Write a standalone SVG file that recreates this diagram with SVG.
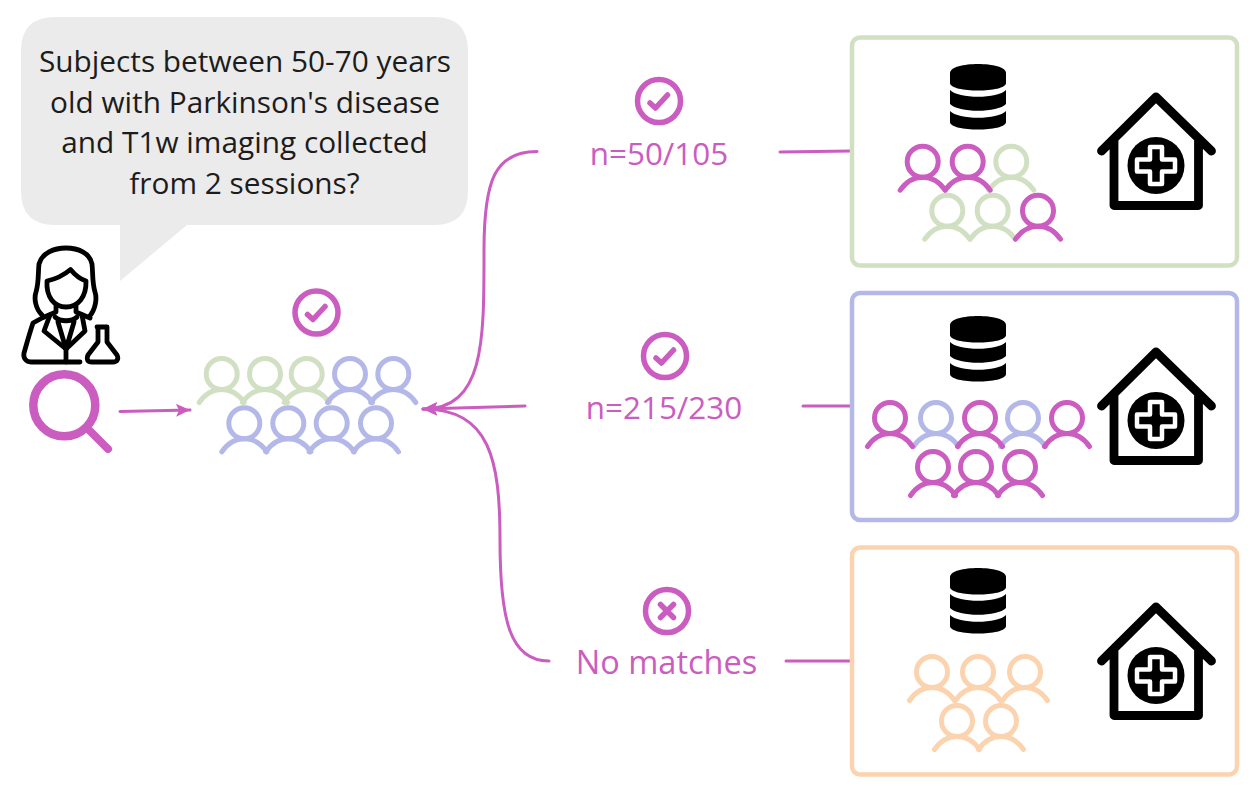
<svg xmlns="http://www.w3.org/2000/svg" width="1255" height="796" viewBox="0 0 1255 796">
<style>
.q{font-family:"Open Sans","Liberation Sans",sans-serif;font-size:29.800px;fill:#1c1c1c;text-anchor:middle}
.l{font-family:"Open Sans","Liberation Sans",sans-serif;font-size:31.400px;fill:#cb5cc0;text-anchor:middle}
.c{fill:none;stroke:#cb5cc0;stroke-width:3;stroke-linecap:round}
.box{fill:#fff;stroke-width:4.5}
.i{fill:none;stroke:#000;stroke-width:4.8;stroke-linecap:round;stroke-linejoin:round}
.g{color:#d1dfc2}.b{color:#b4b8e8}.p{color:#cb5cc0}.o{color:#fbd3ae}
.m{fill:none;stroke:#cb5cc0;stroke-width:5.500;stroke-linecap:round;stroke-linejoin:round}
</style>
<defs>
<marker id="a" markerUnits="userSpaceOnUse" markerWidth="18" markerHeight="16" refX="15" refY="8" orient="auto"><path d="M1,1.500L15,8L1,14.500L4,8Z" fill="#cb5cc0"/></marker>
<g id="u" fill="none" stroke="currentColor" stroke-width="5" stroke-linecap="round"><circle r="15.500"/><path d="M-22.500,28.500C-16,19-8,15.500 0,15.500C8,15.500 16,19 22.500,28.500"/></g>
<g id="db"><path d="M-28,-23C-28,-35 28,-35 28,-23V-13C28,-3-28,-3-28,-13Z"/><path d="M-28,-6C-20,3 20,3 28,-6V8C20,17-20,17-28,8Z"/><path d="M-28,15C-20,24 20,24 28,15V26C28,36-28,36-28,26Z"/></g>
<g id="h"><path d="M-54.500,56L0,2L55.500,56M-42,44V110.500H42.500V44" fill="none" stroke="#000" stroke-width="8.800" stroke-linecap="round" stroke-linejoin="round"/><circle cy="70.500" r="28.500" fill="#000"/><path d="M-6,52H6V64.500H19V76.500H6V89H-6V76.500H-19V64.500H-6Z" fill="#000" stroke="#fff" stroke-width="4.500" stroke-linejoin="round"/></g>
</defs>
<rect width="1255" height="796" fill="#fff"/>

<g id="question">
<path d="M55,17H434Q468,17 468,51V191Q468,225 434,225H187L120,281V225H55Q21,225 21,191V51Q21,17 55,17Z" fill="#ebebeb"/>
<text class="q" x="245" y="72">Subjects between 50-70 years</text>
<text class="q" x="245" y="113">old with Parkinson's disease</text>
<text class="q" x="244.500" y="153">and T1w imaging collected</text>
<text class="q" x="244.500" y="194">from 2 sessions?</text>
</g>

<g id="scientist" class="i">
<path d="M42,315C35,308 34,298 36,292C39,282 38,272 39,264C42,253 54,248 66,248C78,248 90,253 92,264C93,272 92,282 95,292C97,298 96,309 89,317"/>
<path d="M47,281C56,279 64,275 70.500,269.500C75,275 80,279 86,281C86.500,297 78,307 66,307C54,307 46,297 47,281Z"/>
<path d="M56,306V312L42,318L33,323C29,335 26,346 24,353C23,358 26,362 31,362H80"/>
<path d="M76,306V312L90,318"/>
<path d="M50,315L44,331L66,349L85,331L82,315"/>
<path d="M58,322L66,349L74,322M55,317C60,322 72,322 77,317"/>
<path d="M66,349V362"/>
<path d="M97,327H107M98,327V342L88,355C86,360 88,362 92,362H113C117,362 119,359 117,355L107,342V327"/>
</g>

<g id="search" fill="none" stroke="#cb5cc0" stroke-linecap="round">
<circle cx="64.300" cy="405.300" r="31" stroke-width="8.500"/>
<path d="M87,428L108,449" stroke-width="8"/>
</g>

<g id="cohort">
<use href="#u" class="g" x="221.700" y="374"/><use href="#u" class="g" x="265" y="374"/><use href="#u" class="g" x="306.700" y="374"/><use href="#u" class="b" x="350" y="374"/><use href="#u" class="b" x="393.300" y="374"/>
<use href="#u" class="b" x="244.300" y="423.300"/><use href="#u" class="b" x="288.300" y="423.300"/><use href="#u" class="b" x="331.700" y="423.300"/><use href="#u" class="b" x="376" y="423.300"/>
<g class="m"><circle cx="316.500" cy="312.500" r="21.500"/><path d="M307.500,314.500L313,319.500L325,306.500"/></g>
</g>

<g id="connectors">
<path class="c" d="M120,411.500L190,410" marker-end="url(#a)"/>
<path class="c" d="M537,151.500C495,151.500 484,180 484,250C484,340 485,409 423,409" marker-end="url(#a)"/>
<path class="c" d="M525,406L423,409" marker-end="url(#a)"/>
<path class="c" d="M549,661C510,661 500,620 500,540C500,460 490,409 423,409" marker-end="url(#a)"/>
<path class="c" d="M780,152L851,151"/>
<path class="c" d="M803,406H851"/>
<path class="c" d="M786,661H851"/>
</g>

<g id="result-a">
<g class="m"><circle cx="659" cy="101" r="21.500"/><path d="M650,103L655.500,108L667.500,95"/></g>
<text class="l" x="659" y="164.500">n=50/105</text>
</g>
<g id="result-b">
<g class="m"><circle cx="665" cy="356" r="21.500"/><path d="M656,358L661.500,363L673.500,350"/></g>
<text class="l" x="664" y="418.500">n=215/230</text>
</g>
<g id="result-c">
<g class="m"><circle cx="667" cy="611" r="21.500"/><path d="M660.500,604.500L673.500,617.500M673.500,604.500L660.500,617.500"/></g>
<text class="l" x="666.500" y="674" style="font-size:32.500px">No matches</text>
</g>

<g id="site-a">
<rect class="box" x="852" y="37.500" width="385" height="228" rx="8" stroke="#d1dfc2"/>
<use href="#db" x="978" y="96"/>
<use href="#u" class="g" x="1011.300" y="161.700"/><use href="#u" class="p" x="922.700" y="161.700"/><use href="#u" class="p" x="967.700" y="161.700"/>
<use href="#u" class="g" x="947.300" y="210.700"/><use href="#u" class="g" x="992.700" y="210.700"/><use href="#u" class="p" x="1038" y="210.700"/>
<use href="#h" x="1156" y="95"/>
</g>
<g id="site-b">
<rect class="box" x="852" y="293" width="385" height="227" rx="8" stroke="#b4b8e8"/>
<use href="#db" x="978" y="348"/>
<use href="#u" class="b" x="936" y="418"/><use href="#u" class="b" x="1023" y="418"/><use href="#u" class="p" x="890" y="418"/><use href="#u" class="p" x="980" y="418"/><use href="#u" class="p" x="1067" y="418"/>
<use href="#u" class="p" x="933" y="467"/><use href="#u" class="p" x="976" y="467"/><use href="#u" class="p" x="1020" y="467"/>
<use href="#h" x="1156" y="350"/>
</g>
<g id="site-c">
<rect class="box" x="852" y="547.500" width="385" height="227" rx="8" stroke="#fbd3ae"/>
<use href="#db" x="978" y="600"/>
<use href="#u" class="o" x="932" y="672"/><use href="#u" class="o" x="978" y="672"/><use href="#u" class="o" x="1025" y="672"/>
<use href="#u" class="o" x="957" y="721"/><use href="#u" class="o" x="1001" y="721"/>
<use href="#h" x="1156" y="605"/>
</g>
</svg>
